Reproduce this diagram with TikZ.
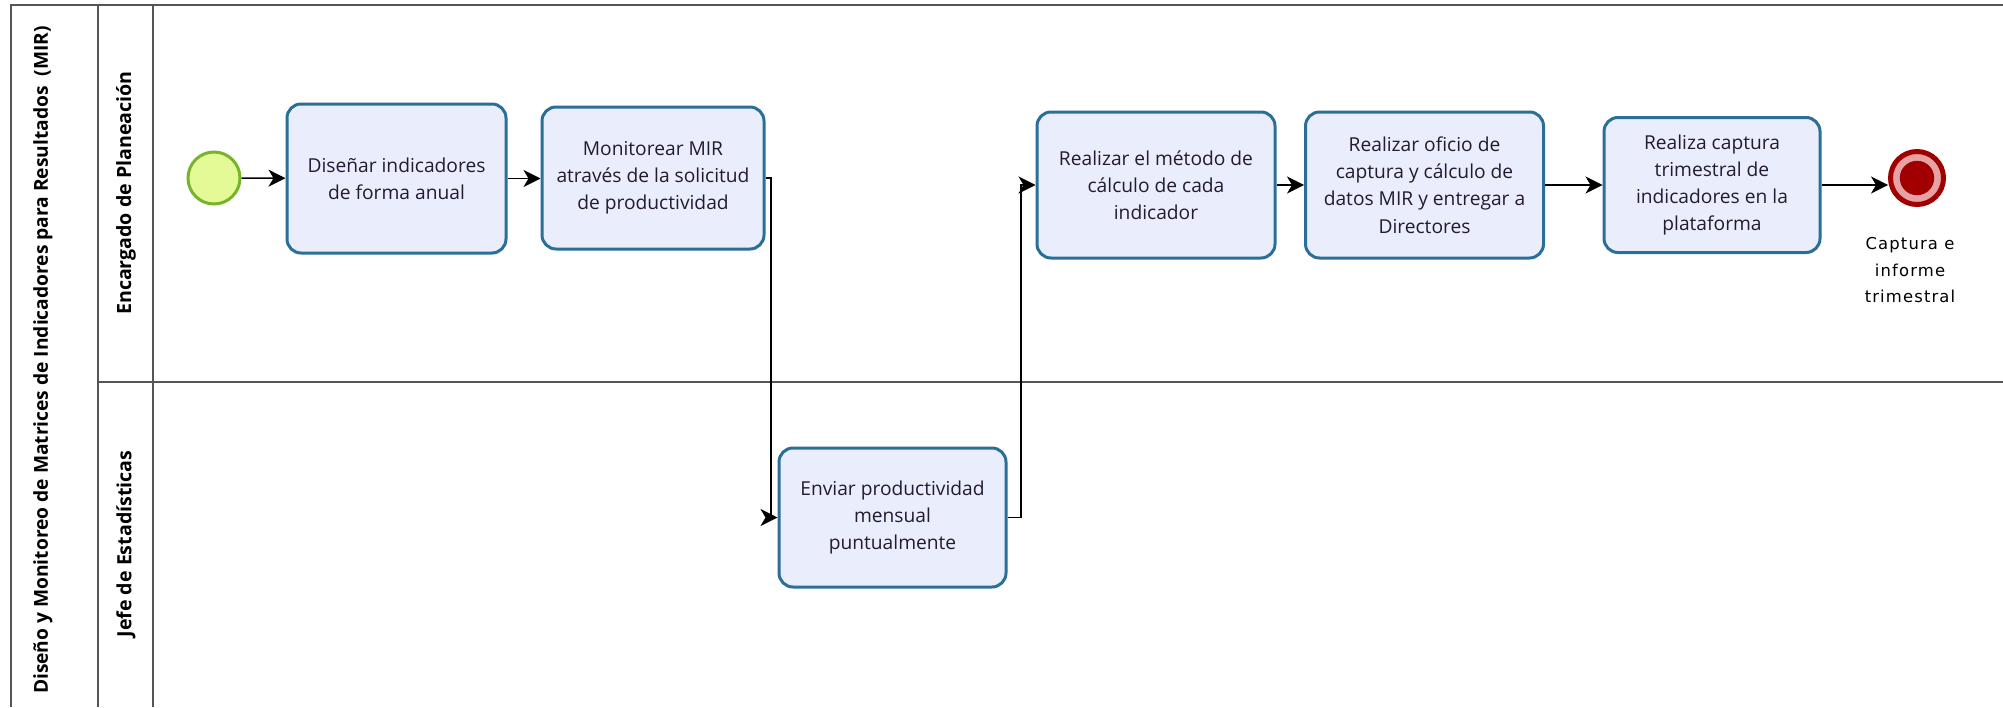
\documentclass[tikz,border=0pt]{standalone}
\usepackage{fontspec}
\setmainfont{Open Sans}
\newfontfamily\labelfont[LetterSpace=7]{DejaVu Sans}
\usetikzlibrary{arrows.meta}
\definecolor{taskfill}{HTML}{EAEEFC}
\definecolor{taskline}{HTML}{2A6F97}
\definecolor{startfill}{HTML}{E4FA96}
\definecolor{startline}{HTML}{78B42A}
\definecolor{enddark}{HTML}{A00000}
\definecolor{endring}{HTML}{E8A2A4}
\definecolor{poolline}{HTML}{555555}
\definecolor{tasktext}{HTML}{231A33}
\tikzset{
  poolrule/.style={draw=poolline, line width=1pt},
  taskbox/.style={draw=taskline, fill=taskfill, line width=1.5pt, rounded corners=7pt,
    align=center, text=tasktext, font=\fontsize{9.6}{13.6}\selectfont, inner sep=0pt},
  flow/.style={draw=black, line width=0.75pt, -{Stealth[length=8.5pt,width=8.5pt,inset=2.5pt]}},
  lanetitle/.style={rotate=90, font=\fontsize{9.8}{12}\selectfont\bfseries, text=black},
}
\begin{document}
\begin{tikzpicture}[x=0.5pt, y=-0.5pt]
  \useasboundingbox (0,0) rectangle (2003,707);

  % pool and lanes
  \draw[poolrule] (11,707) -- (11,5) -- (2003,5);
  \draw[poolrule] (98,5) -- (98,707);
  \draw[poolrule] (153,5) -- (153,707);
  \draw[poolrule] (98,382) -- (2003,382);

  \node[lanetitle, font=\fontsize{9.6}{12}\selectfont\bfseries] (pool) at (43,360)
    {Diseño y Monitoreo de Matrices de Indicadores para Resultados~~(MIR)};
  \node[lanetitle] (lane1) at (126,193) {Encargado de Planeación};
  \node[lanetitle] (lane2) at (126,544) {Jefe de Estadísticas};

  % events
  \node[circle, draw=startline, fill=startfill, line width=1.5pt, minimum size=26pt, inner sep=0pt]
    (start) at (214,178) {};
  \node[circle, draw=enddark, fill=endring, line width=2.5pt, minimum size=26.5pt, inner sep=0pt]
    (end) at (1917,178) {};
  \fill[enddark] (end.center) circle (8.6pt);
  \node[font=\labelfont\fontsize{8.2}{13.4}\selectfont, align=center, anchor=north, text=black]
    (endlabel) at (1910,230) {Captura e\\informe\\trimestral};

  % tasks
  \node[taskbox, minimum width=109.5pt, minimum height=74.5pt] (t1) at (396.5,178.5)
    {Diseñar indicadores\\de forma anual};
  \node[taskbox, minimum width=111pt, minimum height=71pt] (t2) at (653,178)
    {Monitorear MIR\\através de la solicitud\\de productividad};
  \node[taskbox, minimum width=113.5pt, minimum height=69.5pt] (t6) at (892.5,517.5)
    {Enviar productividad\\mensual\\puntualmente};
  \node[taskbox, minimum width=119pt, minimum height=73pt] (t3) at (1156,185)
    {Realizar el método de\\cálculo de cada\\indicador};
  \node[taskbox, minimum width=119pt, minimum height=73pt] (t4) at (1424.5,185)
    {Realizar oficio de\\captura y cálculo de\\datos MIR y entregar a\\Directores};
  \node[taskbox, minimum width=108pt, minimum height=67.5pt] (t5) at (1712,185)
    {Realiza captura\\trimestral de\\indicadores en la\\plataforma};

  % bend points of the cross-lane flows
  \coordinate (b1) at (771,178);
  \coordinate (b2) at (1021,517.5);

  % sequence flows
  \draw[flow] (start) -- (t1);
  \draw[flow] (t1.east) -- (t1.east -| t2.west);
  \draw[flow] (t2.east) -- (b1) |- (t6.west);
  \draw[flow] (t6.east) -- (b2) |- (t3.west);
  \draw[flow] (t3) -- (t4);
  \draw[flow] (t4.east) -- (t4.east -| t5.west);
  \draw[flow] (t5.east) -- (t5.east -| end.west);
\end{tikzpicture}
\end{document}
